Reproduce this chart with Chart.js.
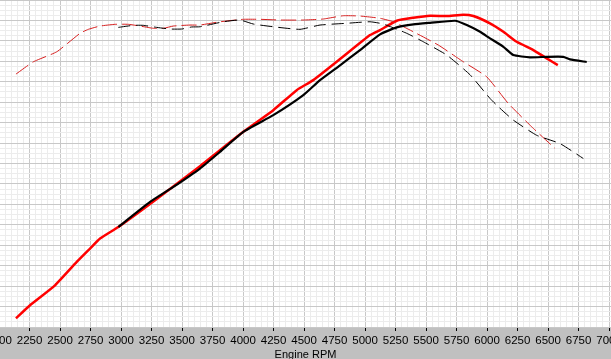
<!DOCTYPE html>
<html>
<head>
<meta charset="utf-8">
<script src="https://cdn.jsdelivr.net/npm/chart.js@4/dist/chart.umd.min.js"></script>
<style>
  html, body { margin: 0; padding: 0; background: #c0c0c0; }
  #wrap { width: 611px; height: 359px; position: relative; }
</style>
</head>
<body>
<div id="wrap"><canvas id="dynoChart"></canvas></div>
<script>
// run 1 (black) - power
const blackPowerRpm = [2978, 3238, 3429, 3647, 3811, 4002, 4248, 4494, 4631, 4795, 4959, 5123, 5260, 5396, 5533, 5738, 5834, 5943, 6024, 6134, 6216, 6352, 6489, 6625, 6680, 6817];
const blackPower = [97.9, 122.4, 137.1, 155.1, 171.4, 191, 207.3, 226.9, 241.6, 256.1, 271, 286.4, 293.2, 296.2, 297.7, 299.7, 295.5, 288.9, 282.5, 274.2, 266.1, 263.9, 264.4, 264.4, 261.9, 259.3];
// run 1 (black) - torque
const blackTorqueRpm = [2978, 3101, 3183, 3292, 3401, 3497, 3579, 3647, 3838, 3975, 4084, 4248, 4467, 4631, 4850, 5041, 5150, 5342, 5478, 5670, 5861, 6024, 6093, 6216, 6407, 6598, 6789];
const blackTorque = [293.2, 295.2, 295.2, 293.2, 291.6, 291.6, 293.6, 293.8, 298.7, 300.4, 296.5, 293.8, 291.3, 295.5, 297.2, 298.7, 296.5, 287.4, 279.1, 266.1, 246.8, 223.7, 215.5, 202.4, 187.6, 179.5, 164.9];
// run 2 (red) - power
const redPowerRpm = [2139, 2254, 2459, 2637, 2746, 2828, 2978, 3279, 3647, 4002, 4248, 4440, 4576, 4795, 5041, 5123, 5260, 5396, 5533, 5670, 5806, 5888, 6024, 6134, 6243, 6380, 6489, 6580];
const redPower = [8.5, 21.3, 40.8, 63.7, 76.8, 86.6, 97.9, 124.1, 157.4, 191, 212.2, 231.8, 241.6, 262.2, 285.7, 290.6, 299.7, 302.6, 304.6, 304.3, 305.6, 304.3, 297.2, 288.9, 279.1, 271, 262.9, 256.3];
// run 2 (red) - torque
const redTorqueRpm = [2139, 2281, 2473, 2664, 2732, 2828, 2951, 3060, 3156, 3265, 3347, 3429, 3565, 3647, 3811, 4002, 4139, 4303, 4494, 4658, 4822, 4959, 5123, 5232, 5396, 5601, 5806, 5997, 6174, 6366, 6557];
const redTorque = [247.5, 259.5, 269.3, 287.4, 291.3, 294.5, 296.2, 296.2, 294.5, 292.3, 292.3, 294.5, 295.5, 295.5, 298.7, 301.1, 301.1, 300.4, 300.4, 301.4, 304.6, 304.3, 302.1, 298.7, 288.9, 275.9, 259.5, 244.9, 218.8, 195.9, 174.7];

// grid: labelled every 250 rpm, minor lines every 50
const rpmTicks = [];
for (let r = 2000; r <= 7000; r += 50) rpmTicks.push(r);
const yTicks = [];
for (let v = 0; v <= 320; v += 5) yTicks.push(v);

const toPoints = (xs, ys) => xs.map((x, i) => ({ x: x, y: ys[i] }));
const axisFont = "'Liberation Sans', Arial, sans-serif";

const plotBg = {
    id: "plotBg",
    beforeDraw(chart) {
        const a = chart.chartArea;
        const c = chart.ctx;
        c.save();
        c.fillStyle = "#ffffff";
        c.fillRect(a.left, a.top, a.right - a.left, a.bottom - a.top);
        c.restore();
    },
};

new Chart(document.getElementById("dynoChart"), {
    type: "line",
    data: {
        datasets: [
            { data: toPoints(blackTorqueRpm, blackTorque), borderColor: "#000000", borderWidth: 1, borderDash: [12, 6] },
            { data: toPoints(blackPowerRpm, blackPower), borderColor: "#000000", borderWidth: 2.2 },
            { data: toPoints(redTorqueRpm, redTorque), borderColor: "#d82020", borderWidth: 1, borderDash: [15, 5] },
            { data: toPoints(redPowerRpm, redPower), borderColor: "#ff0000", borderWidth: 2.5 },
        ],
    },
    options: {
        responsive: true,
        maintainAspectRatio: false,
        animation: false,
        layout: { padding: 0 },
        elements: { point: { radius: 0 }, line: { tension: 0.15 } },
        plugins: { legend: { display: false }, tooltip: { enabled: false } },
        scales: {
            x: {
                type: "linear",
                min: 2008,
                max: 7016,
                afterBuildTicks: (s) => { s.ticks = rpmTicks.map((v) => ({ value: v })); },
                afterFit: (s) => { s.height = 32; s.paddingLeft = 0; s.paddingRight = 0; },
                border: { display: false },
                grid: {
                    color: (c) => (c.tick && c.tick.value % 250 === 0 ? "#c8c8c8" : "#ececec"),
                    tickColor: (c) => (c.tick && c.tick.value % 250 === 0 ? "#000000" : "rgba(0,0,0,0)"),
                    tickLength: 4,
                },
                ticks: {
                    autoSkip: false,
                    maxRotation: 0,
                    padding: 3,
                    color: "#000000",
                    font: { family: axisFont, size: 11.5 },
                    callback: (v) => (v % 250 === 0 ? String(v) : ""),
                },
                title: {
                    display: true,
                    text: "Engine RPM",
                    color: "#000000",
                    font: { family: axisFont, size: 11, lineHeight: 0.8 },
                    padding: { top: 0, bottom: 0 },
                },
            },
            y: {
                min: 0,
                max: 320,
                afterBuildTicks: (s) => { s.ticks = yTicks.map((v) => ({ value: v })); },
                afterFit: (s) => { s.width = 0; },
                border: { display: false },
                grid: {
                    drawTicks: false,
                    color: (c) => (c.tick && c.tick.value % 20 === 0 ? "#c8c8c8" : "#ececec"),
                },
                ticks: { display: false },
            },
        },
    },
    plugins: [plotBg],
});
</script>
</body>
</html>
